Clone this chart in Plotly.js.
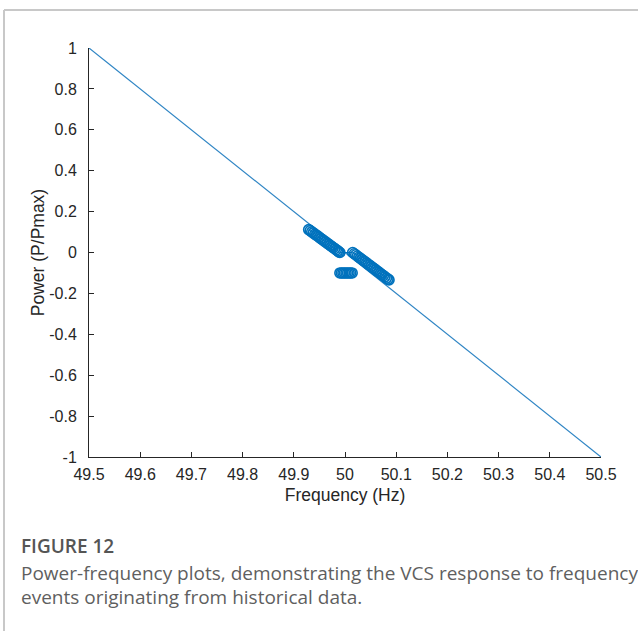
<!DOCTYPE html>
<html>
<head>
<meta charset="utf-8">
<script src="https://cdn.plot.ly/plotly-3.0.1.min.js"></script>
<style>
  html, body { margin: 0; padding: 0; background: #ffffff; }
  #chart { width: 638px; height: 631px; }
</style>
</head>
<body>
<div id="chart"></div>
<script>
// Droop characteristic: full output at 49.5 Hz, full absorption at 50.5 Hz
const droopFreq = [49.5, 50.5];
const droopPower = [1, -1];

// Measured VCS operating points (under-frequency side)
const lowFreq = [49.929, 49.932, 49.935, 49.938, 49.941, 49.944, 49.947, 49.950,
                 49.953, 49.956, 49.959, 49.962, 49.965, 49.968, 49.971, 49.974,
                 49.977, 49.980, 49.983, 49.986, 49.988, 49.990];
const lowPower = [0.112, 0.107, 0.101, 0.096, 0.090, 0.085, 0.080, 0.074,
                  0.068, 0.063, 0.057, 0.052, 0.046, 0.041, 0.035, 0.030,
                  0.024, 0.019, 0.013, 0.008, 0.003, 0.000];

// Measured VCS operating points (over-frequency side)
const highFreq = [50.015, 50.018, 50.021, 50.024, 50.027, 50.030, 50.033, 50.036,
                  50.039, 50.042, 50.045, 50.048, 50.051, 50.054, 50.057, 50.060,
                  50.063, 50.066, 50.069, 50.072, 50.075, 50.078, 50.081, 50.084, 50.086];
const highPower = [0.000, -0.006, -0.011, -0.017, -0.023, -0.028, -0.034, -0.040,
                   -0.045, -0.051, -0.057, -0.062, -0.068, -0.074, -0.079, -0.085,
                   -0.091, -0.096, -0.102, -0.108, -0.113, -0.119, -0.125, -0.130, -0.134];

// Points held at -0.1 inside the deadband
const bandFreq = [49.990, 49.993, 49.996, 49.999, 50.002, 50.005, 50.008, 50.011, 50.014];
const bandPower = [-0.1, -0.1, -0.1, -0.1, -0.1, -0.1, -0.1, -0.1, -0.1];

const xTicks = [49.5, 49.6, 49.7, 49.8, 49.9, 50, 50.1, 50.2, 50.3, 50.4, 50.5];
const yTicks = [-1, -0.8, -0.6, -0.4, -0.2, 0, 0.2, 0.4, 0.6, 0.8, 1];

const blue = '#0072BD';
const marker = { symbol: 'circle-open', size: 10, color: blue, line: { width: 1.6, color: blue } };

const measuredFreq = lowFreq.concat(highFreq);
const measuredPower = lowPower.concat(highPower);

const traces = [
  {
    x: droopFreq, y: droopPower, mode: 'lines', type: 'scatter',
    line: { color: '#2f85c4', width: 1.2 }, hoverinfo: 'skip', cliponaxis: false
  },
  {
    x: measuredFreq, y: measuredPower, mode: 'lines+markers', type: 'scatter',
    line: { color: blue, width: 1 }, marker: marker, cliponaxis: false
  },
  {
    x: bandFreq, y: bandPower, mode: 'markers', type: 'scatter',
    marker: marker, cliponaxis: false
  }
];

// Plot area in pixels: x 89..601, y 48..457
const L = 89, R = 601, T = 48, B = 457;
const px = v => (v - L) / (R - L);
const py = v => (B - v) / (B - T);

const axisCol = '#262626';
const axisFamily = 'Liberation Sans, Arial, sans-serif';
const tickFont = { family: axisFamily, size: 16, color: axisCol };
const titleFont = { family: axisFamily, size: 17.5, color: axisCol };
const capFont = 'Open Sans, Noto Sans, sans-serif';

const layout = {
  width: 638, height: 631,
  margin: { l: L, r: 638 - R, t: T, b: 631 - B, pad: 0 },
  paper_bgcolor: '#ffffff', plot_bgcolor: '#ffffff',
  showlegend: false,
  xaxis: {
    range: [49.5, 50.5], tickvals: xTicks, ticktext: xTicks.map(String),
    ticks: 'inside', ticklen: 5, tickwidth: 1, tickcolor: axisCol,
    showline: true, linecolor: axisCol, linewidth: 1, mirror: false,
    showgrid: false, zeroline: false, tickfont: tickFont, ticklabelstandoff: 3,
    title: { text: 'Frequency (Hz)', font: titleFont, standoff: 6 }
  },
  yaxis: {
    range: [-1, 1], tickvals: yTicks, ticktext: yTicks.map(String),
    ticks: 'inside', ticklen: 5, tickwidth: 1, tickcolor: axisCol,
    showline: true, linecolor: axisCol, linewidth: 1, mirror: false,
    showgrid: false, zeroline: false, tickfont: tickFont, ticklabelstandoff: 8,
    title: { text: 'Power (P/Pmax)', font: titleFont, standoff: 0 }
  },
  shapes: [
    { type: 'line', xref: 'paper', yref: 'paper', x0: px(4), x1: px(640), y0: py(10), y1: py(10),
      line: { color: '#c8c8c8', width: 2 } },
    { type: 'line', xref: 'paper', yref: 'paper', x0: px(4), x1: px(4), y0: py(10), y1: py(633),
      line: { color: '#c8c8c8', width: 2 } }
  ],
  annotations: [
    { xref: 'paper', yref: 'paper', x: px(19), y: py(546), xanchor: 'left', yanchor: 'middle',
      showarrow: false, text: 'FIGURE 12',
      font: { family: capFont, size: 19, color: '#555555', weight: 600 } },
    { xref: 'paper', yref: 'paper', x: px(19), y: py(573), xanchor: 'left', yanchor: 'middle',
      showarrow: false, text: 'Power-frequency plots, demonstrating the VCS response to frequency',
      font: { family: capFont, size: 19, color: '#5f5f5f' } },
    { xref: 'paper', yref: 'paper', x: px(19), y: py(597), xanchor: 'left', yanchor: 'middle',
      showarrow: false, text: 'events originating from historical data.',
      font: { family: capFont, size: 19, color: '#5f5f5f' } }
  ]
};

Plotly.newPlot('chart', traces, layout, { displayModeBar: false, staticPlot: true });
</script>
</body>
</html>
